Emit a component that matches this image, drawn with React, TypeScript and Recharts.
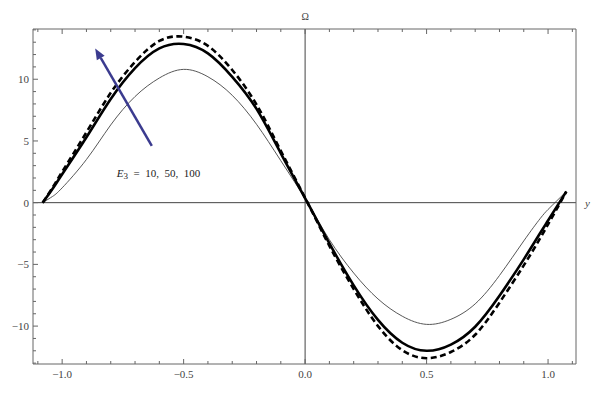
import {
  LineChart, Line, XAxis, YAxis, ReferenceLine, ReferenceDot,
} from 'recharts'

// y positions along the channel
const ys = [-1.08, -1.04, -1.0, -0.9, -0.8, -0.7, -0.6, -0.5, -0.4, -0.3, -0.2, -0.1, 0.01,
  0.1, 0.2, 0.3, 0.4, 0.5, 0.6, 0.7, 0.8, 0.9, 0.967, 1.0, 1.036, 1.075]

// Omega for E3 = 10, 50, 100
const omegaE10 = [0, 0.5, 1.2, 3.5, 6.3, 8.6, 10.1, 10.8, 10.2, 8.7, 6.35, 3.4, 0,
  -3.0, -5.7, -7.8, -9.2, -9.86, -9.45, -8.2, -5.9, -3.1, -1.3, -0.55, 0.15, 0.9]
const omegaE50 = [0, 1.1, 2.3, 5.3, 8.4, 10.9, 12.5, 12.86, 12.1, 10.2, 7.6, 4.0, 0,
  -3.3, -6.7, -9.5, -11.35, -12.0, -11.5, -10.05, -7.54, -4.59, -2.48, -1.45, -0.32, 0.9]
const omegaE100 = [0, 1.2, 2.5, 5.7, 8.9, 11.4, 13.1, 13.45, 12.7, 10.75, 7.95, 4.2, 0,
  -3.5, -7.0, -10.0, -11.95, -12.6, -12.1, -10.7, -8.1, -5.08, -2.9, -1.75, -0.5, 0.9]

const xTicks = [-1.1, -1.0, -0.9, -0.8, -0.7, -0.6, -0.5, -0.4, -0.3, -0.2, -0.1, 0,
  0.1, 0.2, 0.3, 0.4, 0.5, 0.6, 0.7, 0.8, 0.9, 1.0, 1.1]
const xMajor = [-1.0, -0.5, 0, 0.5, 1.0]
const yTicks = [-13, -12, -11, -10, -9, -8, -7, -6, -5, -4, -3, -2, -1, 0,
  1, 2, 3, 4, 5, 6, 7, 8, 9, 10, 11, 12, 13, 14]
const yMajor = [-10, -5, 0, 5, 10]

const data = ys.map((y, i) => ({ y, e10: omegaE10[i], e50: omegaE50[i], e100: omegaE100[i] }))

const FRAME = '#666'
const TXT = '#444'
const SERIF = '"Liberation Serif", "DejaVu Serif", serif'

const isMajor = (list: number[], v: number) => list.some(m => Math.abs(m - v) < 1e-6)
const fmtX = (v: number) => (v < 0 ? '\u2212' : '') + Math.abs(v).toFixed(1)
const fmtY = (v: number) => (v < 0 ? '\u2212' : '') + Math.abs(v)

function BottomTick({ x, y, payload }: any) {
  const major = isMajor(xMajor, payload.value)
  return (
    <g>
      <line x1={x} x2={x} y1={y} y2={y - (major ? 5 : 3)} stroke={FRAME} />
      {major && (
        <text x={x} y={y + 14} textAnchor="middle" fill={TXT} fontSize={11} fontFamily={SERIF}>
          {fmtX(payload.value)}
        </text>
      )}
    </g>
  )
}

function TopTick({ x, y, payload }: any) {
  const major = isMajor(xMajor, payload.value)
  return <line x1={x} x2={x} y1={y} y2={y + (major ? 5 : 3)} stroke={FRAME} />
}

function LeftTick({ x, y, payload }: any) {
  const major = isMajor(yMajor, payload.value)
  return (
    <g>
      <line x1={x} x2={x + (major ? 5 : 3)} y1={y} y2={y} stroke={FRAME} />
      {major && (
        <text x={x - 4} y={y + 4} textAnchor="end" fill={TXT} fontSize={11} fontFamily={SERIF}>
          {fmtY(payload.value)}
        </text>
      )}
    </g>
  )
}

function RightTick({ x, y, payload }: any) {
  const major = isMajor(yMajor, payload.value)
  return <line x1={x} x2={x - (major ? 5 : 3)} y1={y} y2={y} stroke={FRAME} />
}

function Arrow({ x1, y1, x2, y2 }: any) {
  const ang = Math.atan2(y2 - y1, x2 - x1)
  const len = 11, half = 4.5
  const bx = x2 - len * Math.cos(ang), by = y2 - len * Math.sin(ang)
  const px = -Math.sin(ang) * half, py = Math.cos(ang) * half
  return (
    <g>
      <line x1={x1} y1={y1} x2={bx} y2={by} stroke="#3b3b8f" strokeWidth={2.5} />
      <polygon points={`${x2},${y2} ${bx + px},${by + py} ${bx - px},${by - py}`} fill="#3b3b8f" />
    </g>
  )
}

export default function App() {
  return (
    <div style={{ position: 'absolute', left: 0, top: 0, background: '#fff' }}>
      <LineChart width={606} height={399} data={data} margin={{ top: 9, right: 10, bottom: 15, left: 13 }}>
        <XAxis xAxisId="b" dataKey="y" type="number" domain={[-1.12, 1.115]} ticks={xTicks} interval={0}
          height={20} tickSize={0} tickMargin={0} tickLine={false} axisLine={{ stroke: FRAME }} tick={<BottomTick />} />
        <XAxis xAxisId="t" orientation="top" dataKey="y" type="number" domain={[-1.12, 1.115]} ticks={xTicks} interval={0}
          height={20} tickSize={0} tickMargin={0} tickLine={false} axisLine={{ stroke: FRAME }} tick={<TopTick />} />
        <YAxis yAxisId="l" type="number" domain={[-13.07, 14.07]} ticks={yTicks} interval={0}
          width={20} tickSize={0} tickMargin={0} tickLine={false} axisLine={{ stroke: FRAME }} tick={<LeftTick />} />
        <YAxis yAxisId="r" orientation="right" type="number" domain={[-13.07, 14.07]} ticks={yTicks} interval={0}
          width={20} tickSize={0} tickMargin={0} tickLine={false} axisLine={{ stroke: FRAME }} tick={<RightTick />} />
        <ReferenceLine xAxisId="b" yAxisId="l" x={0} stroke="#444" />
        <ReferenceLine xAxisId="b" yAxisId="l" y={0} stroke="#444" />
        <Line xAxisId="b" yAxisId="l" type="natural" dataKey="e10" stroke="#444" strokeWidth={0.9} dot={false} isAnimationActive={false} />
        <Line xAxisId="b" yAxisId="l" type="natural" dataKey="e50" stroke="#000" strokeWidth={2.6} dot={false} isAnimationActive={false} />
        <Line xAxisId="b" yAxisId="l" type="natural" dataKey="e100" stroke="#000" strokeWidth={2.6} strokeDasharray="6 3.5" dot={false} isAnimationActive={false} />
        <ReferenceLine xAxisId="b" yAxisId="l" ifOverflow="visible"
          segment={[{ x: -0.631, y: 4.6 }, { x: -0.864, y: 12.5 }]} shape={<Arrow />} />
        <ReferenceDot xAxisId="b" yAxisId="l" x={-0.775} y={2.08} r={0} ifOverflow="visible"
          shape={(p: any) => (
            <text x={p.cx} y={p.cy} fill="#222" fontSize={11} fontFamily={SERIF} style={{ whiteSpace: 'pre' }}>
              <tspan fontStyle="italic">E</tspan>
              <tspan fontSize={9} dy={2}>3</tspan>
              <tspan dy={-2}>{'  =  10,  50,  100'}</tspan>
            </text>
          )} />
        <ReferenceDot xAxisId="b" yAxisId="l" x={0} y={14.07} r={0} ifOverflow="visible"
          shape={(p: any) => (
            <text x={p.cx} y={p.cy - 9} textAnchor="middle" fill={TXT} fontSize={10} fontFamily={SERIF}>{'\u03A9'}</text>
          )} />
        <ReferenceDot xAxisId="b" yAxisId="l" x={1.115} y={0} r={0} ifOverflow="visible"
          shape={(p: any) => (
            <text x={p.cx + 9} y={p.cy + 4} fill={TXT} fontSize={11} fontStyle="italic" fontFamily={SERIF}>y</text>
          )} />
      </LineChart>
    </div>
  )
}
